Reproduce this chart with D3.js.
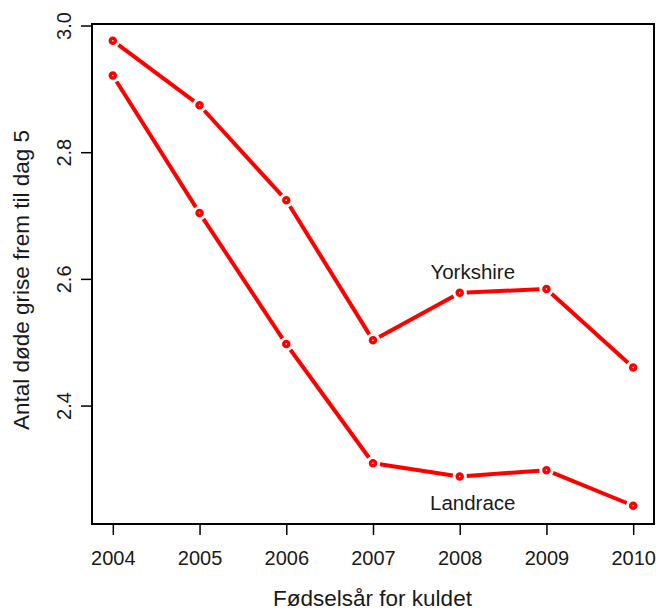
<!DOCTYPE html>
<html>
<head>
<meta charset="utf-8">
<script src="https://cdn.jsdelivr.net/npm/d3@7"></script>
<style>
  body { margin: 0; background: #fff; }
  svg { display: block; font-family: "Liberation Sans", Arial, sans-serif; }
  .axis text { fill: #1a1a1a; }
  .axis line { stroke: #000; stroke-width: 1.5px; }
</style>
</head>
<body>
<div id="chart"></div>
<script>
// data
const years = [2004, 2005, 2006, 2007, 2008, 2009, 2010];
const yorkshire = [2.976, 2.874, 2.724, 2.503, 2.578, 2.584, 2.460];
const landrace = [2.921, 2.704, 2.497, 2.309, 2.288, 2.298, 2.242];
const yTicks = [2.4, 2.6, 2.8, 3.0];
const labelNames = ["Yorkshire", "Landrace"];
const labelX = [2008.15, 2008.15];
const labelY = [2.611, 2.246];

const width = 656, height = 608;
const margin = {top: 24, right: 2, bottom: 84, left: 92};
const innerWidth = width - margin.left - margin.right,
      innerHeight = height - margin.top - margin.bottom;

const svg = d3.select("#chart").append("svg")
  .attr("width", width)
  .attr("height", height);

const g = svg.append("g")
  .attr("transform", `translate(${margin.left},${margin.top})`);

let scale = {};
// R style 4% extension on x
scale.x = d3.scaleLinear().domain([2003.76, 2010.24]).range([0, innerWidth]);
scale.y = d3.scaleLinear().domain([2.213, 3.0024]).range([innerHeight, 0]);

// axes
const tickLen = 11;
const yAxis = d3.axisLeft(scale.y)
  .tickValues(yTicks)
  .tickSize(tickLen)
  .tickFormat(d3.format(".1f"));

g.append("g").attr("class", "axis y").call(yAxis);
g.selectAll(".axis.y text")
  .attr("x", null).attr("dy", "0.36em")
  .attr("text-anchor", "middle")
  .attr("font-size", "20px")
  .attr("transform", "translate(-28,0)rotate(-90)");

const xAxis = d3.axisBottom(scale.x)
  .tickValues(years)
  .tickSize(tickLen)
  .tickFormat(d3.format("d"));

g.append("g").attr("class", "axis x")
  .attr("transform", `translate(0,${innerHeight})`)
  .call(xAxis);
g.selectAll(".axis.x text")
  .attr("y", 40.5).attr("dy", null)
  .attr("font-size", "20px");

g.selectAll(".domain").remove();

// plot box
g.append("rect")
  .attr("x", 0).attr("y", 0)
  .attr("width", innerWidth).attr("height", innerHeight)
  .attr("fill", "none")
  .attr("stroke", "#000")
  .attr("stroke-width", 2);

// lines type "b": segments with gaps around the points
const gap = 7;
function drawSeries(values) {
  const pts = years.map((yr, i) => [scale.x(yr), scale.y(values[i])]);
  const segs = d3.pairs(pts).map(([a, b]) => {
    const dx = b[0] - a[0], dy = b[1] - a[1];
    const len = Math.sqrt(dx * dx + dy * dy);
    const ux = dx / len, uy = dy / len;
    return {x1: a[0] + ux * gap, y1: a[1] + uy * gap, x2: b[0] - ux * gap, y2: b[1] - uy * gap};
  });
  const s = g.append("g");
  s.selectAll("line").data(segs).join("line")
    .attr("x1", d => d.x1).attr("y1", d => d.y1)
    .attr("x2", d => d.x2).attr("y2", d => d.y2)
    .attr("stroke", "#ff0000")
    .attr("stroke-width", 4);
  s.selectAll("circle").data(pts).join("circle")
    .attr("cx", d => d[0]).attr("cy", d => d[1])
    .attr("r", 2.5)
    .attr("fill", "#fff")
    .attr("stroke", "#ff0000")
    .attr("stroke-width", 3.5);
}
drawSeries(yorkshire);
drawSeries(landrace);

// series labels
g.selectAll(".series-label").data(labelNames).join("text")
  .attr("class", "series-label")
  .attr("x", (d, i) => scale.x(labelX[i]))
  .attr("y", (d, i) => scale.y(labelY[i]))
  .attr("dy", "0.36em")
  .attr("text-anchor", "middle")
  .attr("font-size", "20.5px")
  .attr("fill", "#1a1a1a")
  .text(d => d);

// axis titles
svg.append("text")
  .attr("class", "axis-title")
  .attr("x", 372.5)
  .attr("y", 598)
  .attr("dy", "0.36em")
  .attr("text-anchor", "middle")
  .attr("font-size", "22.5px")
  .attr("fill", "#1a1a1a")
  .text("Fødselsår for kuldet");

svg.append("text")
  .attr("class", "axis-title")
  .attr("transform", "translate(21,280)rotate(-90)")
  .attr("dy", "0.36em")
  .attr("text-anchor", "middle")
  .attr("font-size", "22.5px")
  .attr("fill", "#1a1a1a")
  .text("Antal døde grise frem til dag 5");
</script>
</body>
</html>
